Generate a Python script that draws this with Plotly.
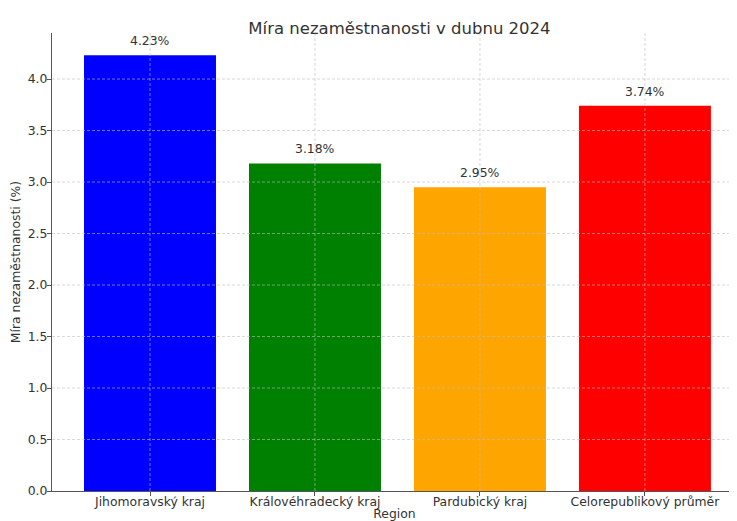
import plotly.graph_objects as go

regions = ["Jihomoravský kraj", "Královéhradecký kraj", "Pardubický kraj", "Celorepublikový průměr"]
rates = [4.23, 3.18, 2.95, 3.74]
colors = ["blue", "green", "orange", "red"]
labels = [f"{v:.2f}%" for v in rates]
yticks = [0.0, 0.5, 1.0, 1.5, 2.0, 2.5, 3.0, 3.5, 4.0]

font = "DejaVu Sans"
txt = "#333333"
fs = 12.4
grid = dict(color="rgba(190,190,190,0.75)", width=0.8, dash="3px,2px")

fig = go.Figure()
fig.add_trace(go.Bar(
    x=list(range(len(regions))), y=rates, width=0.8,
    marker=dict(color=colors, line=dict(width=0)),
    showlegend=False, hoverinfo="skip",
))

for i, (v, lab) in enumerate(zip(rates, labels)):
    fig.add_annotation(x=i, y=v, text=lab, showarrow=False, yanchor="bottom",
                       yshift=5, font=dict(family=font, size=fs, color=txt))

# grid lines drawn above the bars, as in the reference
for i in range(len(regions)):
    fig.add_shape(type="line", xref="x", yref="paper", x0=i, x1=i, y0=0, y1=1,
                  line=grid, layer="above")
for t in yticks[1:]:
    fig.add_shape(type="line", xref="paper", yref="y", x0=0, x1=1, y0=t, y1=t,
                  line=grid, layer="above")

# the page body has an 8px margin, so the figure is sized to fit the window
fig.update_layout(
    width=729, height=513,
    margin=dict(l=44, r=0, t=25, b=30),
    plot_bgcolor="white", paper_bgcolor="white",
    title=dict(text="Míra nezaměstnanosti v dubnu 2024", x=0.537, xanchor="center",
               y=0.961, yanchor="middle", font=dict(family=font, size=16.5, color=txt)),
    font=dict(family=font, size=fs, color=txt),
)
fig.update_xaxes(
    range=[-0.594, 3.558], tickmode="array", tickvals=list(range(len(regions))),
    ticktext=regions, showline=True, linecolor="#555555", linewidth=1.2,
    ticks="outside", ticklen=4, tickcolor="#555555", ticklabelstandoff=-5,
    showgrid=False, zeroline=False, automargin=False,
    title=dict(text="Region", standoff=3, font=dict(family=font, size=fs, color=txt)),
    tickfont=dict(family=font, size=fs, color=txt),
)
fig.update_yaxes(
    range=[0, 4.447], tickmode="array", tickvals=yticks,
    ticktext=[f"{t:.1f}" for t in yticks], showline=True, linecolor="#555555", linewidth=1.2,
    ticks="outside", ticklen=4, tickcolor="#555555", ticklabelstandoff=-3,
    showgrid=False, zeroline=False, automargin=False,
    title=dict(text="Míra nezaměstnanosti (%)", standoff=4, font=dict(family=font, size=fs, color=txt)),
    tickfont=dict(family=font, size=fs, color=txt),
)

fig.write_html("out.html")
